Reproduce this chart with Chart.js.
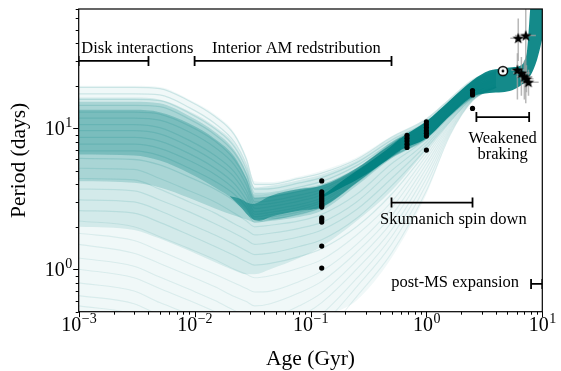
<!DOCTYPE html>
<html>
<head>
<meta charset="utf-8">
<script src="https://cdn.jsdelivr.net/npm/chart.js"></script>
<style>
html, body { margin: 0; padding: 0; background: #fff; }
canvas { display: block; }
</style>
</head>
<body>
<canvas id="chart" width="561" height="371"></canvas>
<script>
var trackAges = [0.001, 0.003, 0.005, 0.009, 0.015, 0.022, 0.028, 0.033, 0.045, 0.08, 0.125, 0.25, 0.5, 1.0, 1.6, 2.5, 4.0];

// slow starters (end up in the dense sequence)
var slowTracks = [
    [19.5, 19.5, 19.1, 15.6, 12.1, 9.0, 6.0, 4.0, 4.0, 4.4, 4.8, 6.0, 8.6, 11.6, 16.2, 22, 26],
    [17.5, 17.5, 17.2, 14.0, 10.8, 8.0, 5.5, 3.7, 3.72, 4.09, 4.47, 5.7, 8.22, 11.1, 15.56, 21.1, 25],
    [16.0, 16.0, 15.7, 12.8, 9.9, 7.4, 5.1, 3.45, 3.48, 3.82, 4.19, 5.43, 7.88, 10.64, 15.0, 20.35, 24.1],
    [14.5, 14.5, 14.2, 11.6, 9.0, 6.7, 4.7, 3.2, 3.25, 3.56, 3.92, 5.18, 7.57, 10.22, 14.48, 19.6, 23.2],
    [13.0, 13.0, 12.6, 10.4, 8.1, 6.0, 4.3, 3.0, 3.06, 3.35, 3.69, 4.97, 7.3, 9.87, 14.04, 19.0, 22.5],
    [11.8, 11.8, 11.4, 9.4, 7.3, 5.5, 3.95, 2.85, 2.92, 3.19, 3.53, 4.82, 7.11, 9.62, 13.72, 18.6, 22.0],
    [10.6, 10.6, 10.1, 8.2, 6.4, 4.9, 3.6, 2.7, 2.78, 3.04, 3.37, 4.67, 6.92, 9.36, 13.4, 18.15, 21.5],
    [9.6, 9.6, 9.1, 7.4, 5.8, 4.5, 3.35, 2.55, 2.64, 2.88, 3.2, 4.52, 6.73, 9.1, 13.08, 17.7, 20.9],
    [8.6, 8.6, 8.1, 6.6, 5.2, 4.05, 3.1, 2.45, 2.53, 2.76, 3.08, 4.4, 6.58, 8.91, 12.84, 17.4, 20.5],
    [7.7, 7.7, 7.2, 5.9, 4.7, 3.7, 2.9, 2.35, 2.44, 2.66, 2.98, 4.31, 6.46, 8.75, 12.64, 17.1, 20.2],
    [6.9, 6.9, 6.4, 5.2, 4.2, 3.4, 2.75, 2.25, 2.34, 2.55, 2.85, 4.2, 6.32, 8.56, 12.4, 16.8, 19.8],
    [6.1, 6.0, 5.5, 4.5, 3.7, 3.05, 2.55, 2.15, 2.25, 2.45, 2.75, 4.1, 6.2, 8.4, 12.2, 16.5, 19.5]
];
var midTracks = [
    [5.2, 5.1, 4.4, 3.6, 3.0, 2.5, 2.2, 2.0, 2.05, 2.2, 2.45, 3.4, 5.6, 8.4, 12.4, 16.8, 19.8],
    [4.4, 4.3, 3.7, 3.0, 2.5, 2.1, 1.9, 1.75, 1.8, 1.95, 2.15, 3.0, 5.0, 8.0, 12.1, 16.6, 19.6],
    [3.7, 3.6, 3.1, 2.55, 2.1, 1.8, 1.62, 1.5, 1.55, 1.7, 1.9, 2.65, 4.4, 7.6, 11.8, 16.5, 19.6],
    [3.1, 3.0, 2.6, 2.1, 1.75, 1.5, 1.35, 1.27, 1.3, 1.45, 1.62, 2.3, 3.9, 7.2, 11.5, 16.4, 19.5],
    [2.6, 2.5, 2.15, 1.75, 1.45, 1.25, 1.13, 1.07, 1.1, 1.23, 1.4, 2.0, 3.4, 6.8, 11.2, 16.3, 19.5]
];
var fastTracks = [
    [2.2, 2.0, 1.7, 1.4, 1.17, 1.0, 0.92, 0.87, 0.9, 1.02, 1.17, 1.75, 3.0, 6.4, 11.0, 16.2, 19.5],
    [1.8, 1.6, 1.35, 1.1, 0.92, 0.8, 0.73, 0.69, 0.7, 0.82, 0.97, 1.5, 2.7, 6.0, 10.7, 16.1, 19.5],
    [1.5, 1.3, 1.1, 0.9, 0.75, 0.64, 0.59, 0.55, 0.57, 0.68, 0.82, 1.32, 2.4, 5.6, 10.4, 16.0, 19.5],
    [1.2, 1.05, 0.88, 0.72, 0.6, 0.51, 0.47, 0.44, 0.45, 0.55, 0.68, 1.15, 2.15, 5.2, 10.1, 16.0, 19.5],
    [1.0, 0.87, 0.73, 0.6, 0.5, 0.43, 0.39, 0.37, 0.38, 0.46, 0.58, 1.0, 1.9, 4.8, 9.8, 15.9, 19.5],
    [0.8, 0.7, 0.58, 0.48, 0.4, 0.34, 0.31, 0.29, 0.3, 0.37, 0.48, 0.86, 1.7, 4.4, 9.5, 15.8, 19.5],
    [0.65, 0.57, 0.47, 0.39, 0.32, 0.28, 0.25, 0.24, 0.25, 0.31, 0.4, 0.75, 1.5, 4.0, 9.2, 15.7, 19.5],
    [0.55, 0.48, 0.4, 0.33, 0.27, 0.23, 0.21, 0.2, 0.2, 0.25, 0.33, 0.64, 1.3, 3.6, 8.9, 15.6, 19.5]
];

// shaded envelopes of the track bundle (same ages as the tracks)
var envTop = [20, 20, 19.6, 16, 12.5, 9.3, 6.3, 4.2, 4.15, 4.55, 5.0, 6.2, 8.8, 11.8, 16.3, 22, 26];
var envBottom = [0.3, 0.3, 0.3, 0.3, 0.3, 0.3, 0.3, 0.3, 0.3, 0.35, 0.45, 0.6, 1.2, 3.4, 8.8, 15.5, 19.5];
var medTop = [16.5, 16.5, 16.0, 13.2, 10.3, 7.8, 5.4, 3.8, 3.9, 4.3, 4.7, 5.9, 8.5, 11.5, 16.1, 21.9, 26];
var medBottom = [2.0, 1.9, 1.65, 1.35, 1.12, 0.98, 0.92, 0.92, 1.0, 1.2, 1.45, 2.2, 3.6, 7.0, 11.0, 16.2, 19.5];
var coreTop = [15.4, 15.4, 15.0, 12.2, 9.4, 7.0, 4.9, 3.4, 3.45, 3.75, 4.0, 5.2, 8.0, 11.2, 15.8, 21.8, 26];
var coreBottom = [4.2, 4.1, 3.8, 3.2, 2.7, 2.4, 2.25, 2.15, 2.2, 2.35, 2.6, 3.9, 6.1, 8.4, 12.2, 16.5, 19.5];
var innerTop = [13.5, 13.5, 13.0, 10.8, 8.4, 6.3, 4.4, 3.2, 3.3, 3.6, 3.9, 5.1, 7.9, 11.0, 15.6, 21.5, 25.5];
var innerBottom = [6.5, 6.4, 5.9, 4.8, 3.8, 3.1, 2.6, 2.25, 2.25, 2.45, 2.75, 4.1, 6.2, 8.5, 12.3, 16.6, 19.6];

// dark part of the bundle around the zero-age main sequence
var darkAges = [0.02, 0.025, 0.029, 0.032, 0.036, 0.045, 0.08, 0.125, 0.25, 0.4, 0.6];
var darkTop = [3.3, 3.15, 2.95, 2.9, 3.0, 3.3, 3.7, 3.9, 5.2, 6.8, 8.6];
var darkBottom = [3.3, 2.75, 2.4, 2.25, 2.2, 2.35, 2.6, 2.75, 4.1, 5.5, 6.9];

// converged sequence, weakened braking and post-MS turn up
var bandAges = [0.125, 0.2, 0.3, 0.45, 0.6, 1.0, 1.6, 2.5, 3.5, 4.5, 5.5, 6.5, 7.0, 7.4, 7.7, 8.0, 8.5, 9.0, 9.5, 10];
var bandTop = [3.3, 4.4, 5.5, 7.0, 8.5, 11.2, 15.8, 21.8, 25.6, 26.5, 27.0, 27.8, 30, 36, 55, 85, 120, 160, 200, 250];
var bandBottom = [3.2, 3.9, 4.7, 5.9, 7.0, 8.5, 12.3, 16.8, 17.8, 18.0, 18.6, 20.0, 21.0, 22.0, 23.0, 24.0, 26.7, 30.5, 36, 43];

// open clusters
var clusterAges = [0.125, 0.68, 1.0, 2.5];
var clusterPeriods = [
    [4.23, 3.54, 3.42, 3.31, 3.2, 3.1, 3.0, 2.9, 2.82, 2.76, 2.31, 2.24, 2.16, 1.46, 1.02],
    [8.9, 8.5, 8.1, 7.7, 7.3],
    [11.1, 10.6, 10.1, 9.6, 9.2, 8.8, 7.0],
    [18.5, 17.8, 17.2, 13.8]
];

// field stars with errors
var starAges = [6.2, 7.2, 6.1, 6.6, 7.0, 7.3, 7.6];
var starPeriods = [43.5, 45.4, 25.9, 24.6, 23.2, 22.4, 21.2];
var starAgeLow = [5.3, 5.8, 5.4, 5.6, 6.0, 6.4, 6.6];
var starAgeHigh = [7.3, 8.8, 7.0, 7.8, 8.2, 8.4, 9.3];
var starPLow = [30, 15, 16, 17, 16, 18, 17];
var starPHigh = [60, 80, 34, 32, 30, 28, 26];

var sunAge = 4.57;
var sunPeriod = 25.4;

// annotation brackets
var bracketStart = [0.001, 0.01, 0.5, 2.7, 8.0];
var bracketEnd = [0.004, 0.5, 2.5, 7.7, 10];
var bracketPeriod = [30, 30, 2.97, 12.0, 0.787];

var noteText = ['Disk interactions', 'Interior AM redstribution', 'Skumanich spin down', 'Weakened', 'braking', 'post-MS expansion'];
var noteAge = [0.00321, 0.0756, 1.71, 4.55, 4.55, 1.77];
var notePeriod = [34.4, 34.4, 2.085, 7.9, 6.03, 0.745];

var xMajor = [0.001, 0.01, 0.1, 1, 10];
var xExp = ['\u22123', '\u22122', '\u22121', '0', '1'];
var yMajor = [1, 10];
var yExp = ['0', '1'];

var TEAL = '0, 128, 128';

function toPoints(ages, vals){
    var pts = [];
    for(var i = 0; i < ages.length; i++){
        pts.push({x: ages[i], y: vals[i]});
    }
    return pts;
}

var datasets = [];

function addBand(top, bottom, ages, color, order){
    datasets.push({data: toPoints(ages, top), fill: '+1', backgroundColor: color,
        borderColor: 'rgba(0,0,0,0)', borderWidth: 0, pointRadius: 0, order: order,
        cubicInterpolationMode: 'monotone'});
    datasets.push({data: toPoints(ages, bottom), fill: false, backgroundColor: 'rgba(0,0,0,0)',
        borderColor: 'rgba(0,0,0,0)', borderWidth: 0, pointRadius: 0, order: order,
        cubicInterpolationMode: 'monotone'});
}

function addTracks(list, alpha, width){
    for(var i = 0; i < list.length; i++){
        datasets.push({data: toPoints(trackAges, list[i]), fill: false,
            borderColor: 'rgba(' + TEAL + ',' + alpha + ')', borderWidth: width,
            pointRadius: 0, order: 6, cubicInterpolationMode: 'monotone'});
    }
}

addBand(envTop, envBottom, trackAges, 'rgba(' + TEAL + ',0.06)', 10);
addBand(medTop, medBottom, trackAges, 'rgba(' + TEAL + ',0.12)', 9);
addBand(coreTop, coreBottom, trackAges, 'rgba(' + TEAL + ',0.2)', 8);
addBand(innerTop, innerBottom, trackAges, 'rgba(' + TEAL + ',0.28)', 7);
addTracks(slowTracks, 0.16, 1.3);
addTracks(midTracks, 0.13, 1.2);
addTracks(fastTracks, 0.1, 1.1);
addBand(darkTop, darkBottom, darkAges, 'rgba(' + TEAL + ',0.55)', 5);
addBand(bandTop, bandBottom, bandAges, 'rgba(' + TEAL + ',0.92)', 5);

// brackets with end caps
for(var i = 0; i < bracketStart.length; i++){
    datasets.push({data: [{x: bracketStart[i], y: bracketPeriod[i]}, {x: bracketEnd[i], y: bracketPeriod[i]}],
        borderColor: '#000', borderWidth: 1.8, pointStyle: 'line', pointRotation: 90,
        pointRadius: 5, pointBorderColor: '#000', pointBorderWidth: 1.8, fill: false, order: 3});
}

// error bars of the field stars
for(var i = 0; i < starAges.length; i++){
    datasets.push({data: [{x: starAgeLow[i], y: starPeriods[i]}, {x: starAgeHigh[i], y: starPeriods[i]}],
        borderColor: 'rgba(160,160,160,0.75)', borderWidth: 1.5, pointRadius: 0, fill: false, order: 2});
    datasets.push({data: [{x: starAges[i], y: starPLow[i]}, {x: starAges[i], y: starPHigh[i]}],
        borderColor: 'rgba(160,160,160,0.75)', borderWidth: 1.5, pointRadius: 0, fill: false, order: 2});
}

// cluster members
var dots = [];
for(var c = 0; c < clusterAges.length; c++){
    for(var j = 0; j < clusterPeriods[c].length; j++){
        dots.push({x: clusterAges[c], y: clusterPeriods[c][j]});
    }
}
datasets.push({data: dots, showLine: false, pointRadius: 2.6, pointBackgroundColor: '#000',
    pointBorderWidth: 0, order: 1});

// marker images
var starImg = document.createElement('canvas');
starImg.width = 14; starImg.height = 14;
(function(){
    var g = starImg.getContext('2d');
    g.beginPath();
    for(var k = 0; k < 10; k++){
        var r = (k % 2 == 0) ? 6 : 2.5;
        var a = -Math.PI / 2 + k * Math.PI / 5;
        var px = 7 + r * Math.cos(a), py = 7.5 + r * Math.sin(a);
        if(k == 0) g.moveTo(px, py); else g.lineTo(px, py);
    }
    g.closePath();
    g.fillStyle = '#000';
    g.fill();
})();

var sunImg = document.createElement('canvas');
sunImg.width = 14; sunImg.height = 14;
(function(){
    var g = sunImg.getContext('2d');
    g.beginPath();
    g.arc(7, 7, 4.6, 0, Math.PI * 2);
    g.fillStyle = '#fff';
    g.fill();
    g.lineWidth = 1.5;
    g.strokeStyle = '#000';
    g.stroke();
    g.beginPath();
    g.arc(7, 7, 1.4, 0, Math.PI * 2);
    g.fillStyle = '#000';
    g.fill();
})();

datasets.push({data: toPoints(starAges, starPeriods), showLine: false, pointStyle: starImg, order: 0});
datasets.push({data: [{x: sunAge, y: sunPeriod}], showLine: false, pointStyle: sunImg, order: 0});

var SERIF = "'Liberation Serif', 'DejaVu Serif', serif";

function drawPow(ctx, exp, x, y, mode){
    ctx.font = '20px ' + SERIF;
    var w1 = ctx.measureText('10').width;
    ctx.font = '14px ' + SERIF;
    var w2 = ctx.measureText(exp).width;
    var left = (mode == 'center') ? x - (w1 + w2) / 2 : x - (w1 + w2);
    ctx.textAlign = 'left';
    ctx.textBaseline = 'alphabetic';
    ctx.font = '20px ' + SERIF;
    ctx.fillText('10', left, y);
    ctx.font = '14px ' + SERIF;
    ctx.fillText(exp, left + w1 + 0.5, y - 8);
}

var axesPlugin = {
    id: 'axesPlugin',
    afterDraw: function(chart){
        var ctx = chart.ctx;
        var area = chart.chartArea;
        var xs = chart.scales.x, ys = chart.scales.y;
        ctx.save();
        ctx.strokeStyle = '#000';
        ctx.lineWidth = 1.2;
        ctx.strokeRect(area.left, area.top, area.right - area.left, area.bottom - area.top);
        ctx.lineWidth = 1;
        ctx.beginPath();
        for(var d = 0; d < 4; d++){
            for(var m = 2; m < 10; m++){
                var px = Math.round(xs.getPixelForValue(xMajor[d] * m)) + 0.5;
                ctx.moveTo(px, area.bottom); ctx.lineTo(px, area.bottom + 3);
            }
        }
        for(var i = 0; i < xMajor.length; i++){
            var px = Math.round(xs.getPixelForValue(xMajor[i])) + 0.5;
            ctx.moveTo(px, area.bottom); ctx.lineTo(px, area.bottom + 5.5);
        }
        var yMinor = [0.5, 0.6, 0.7, 0.8, 0.9, 2, 3, 4, 5, 6, 7, 8, 9, 20, 30, 40, 50, 60, 70];
        for(var i = 0; i < yMinor.length; i++){
            var py = Math.round(ys.getPixelForValue(yMinor[i])) + 0.5;
            ctx.moveTo(area.left, py); ctx.lineTo(area.left - 3, py);
        }
        for(var i = 0; i < yMajor.length; i++){
            var py = Math.round(ys.getPixelForValue(yMajor[i])) + 0.5;
            ctx.moveTo(area.left, py); ctx.lineTo(area.left - 5.5, py);
        }
        ctx.stroke();

        ctx.fillStyle = '#000';
        for(var i = 0; i < xMajor.length; i++){
            drawPow(ctx, xExp[i], xs.getPixelForValue(xMajor[i]), area.bottom + 19, 'center');
        }
        for(var i = 0; i < yMajor.length; i++){
            drawPow(ctx, yExp[i], area.left - 7, ys.getPixelForValue(yMajor[i]) + 7, 'right');
        }

        ctx.font = '21.5px ' + SERIF;
        ctx.textAlign = 'center';
        ctx.textBaseline = 'middle';
        ctx.fillText('Age (Gyr)', (area.left + area.right) / 2, 359);
        ctx.save();
        ctx.translate(19, (area.top + area.bottom) / 2);
        ctx.rotate(-Math.PI / 2);
        ctx.fillText('Period (days)', 0, 0);
        ctx.restore();

        ctx.font = '16.5px ' + SERIF;
        ctx.textAlign = 'center';
        ctx.textBaseline = 'alphabetic';
        for(var i = 0; i < noteText.length; i++){
            ctx.fillText(noteText[i], xs.getPixelForValue(noteAge[i]), ys.getPixelForValue(notePeriod[i]));
        }
        ctx.restore();
    }
};

var ctx = document.getElementById('chart').getContext('2d');
var myChart = new Chart(ctx, {
    type: 'line',
    data: {datasets: datasets},
    options: {
        responsive: false,
        animation: false,
        devicePixelRatio: 1,
        layout: {padding: {left: 0, right: 18.7, top: 9, bottom: 0}},
        plugins: {legend: {display: false}, tooltip: {enabled: false}},
        scales: {
            x: {type: 'logarithmic', min: 0.001, max: 10,
                grid: {display: false}, border: {display: false}, ticks: {display: false},
                afterFit: function(s){ s.height = 59.3; }},
            y: {type: 'logarithmic', min: 0.5, max: 70,
                grid: {display: false}, border: {display: false}, ticks: {display: false},
                afterFit: function(s){ s.width = 78.7; }}
        }
    },
    plugins: [axesPlugin]
});
</script>
</body>
</html>
